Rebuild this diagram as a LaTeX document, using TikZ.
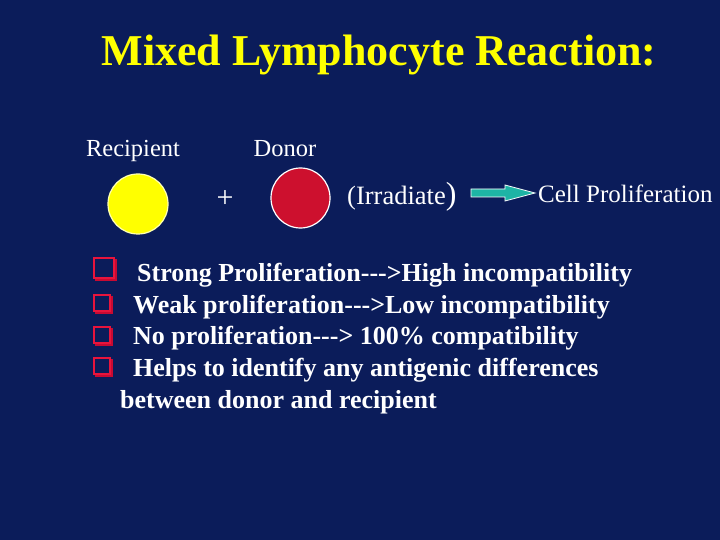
\documentclass[tikz,border=0pt]{standalone}
\usepackage{fontspec}
\setmainfont{Liberation Serif}
\usetikzlibrary{shapes.geometric,calc}
\definecolor{bg}{RGB}{11,28,90}
\definecolor{ttl}{RGB}{255,255,0}
\definecolor{cellred}{RGB}{205,16,46}
\definecolor{teal}{RGB}{30,180,165}
\definecolor{bred}{RGB}{232,20,60}
\definecolor{bshadow}{RGB}{200,10,50}
\begin{document}
\begin{tikzpicture}[x=1pt,y=-1pt,
  lbl/.style={inner sep=0pt,text=white,font=\fontsize{24}{28}\selectfont},
  bul/.style={inner sep=0pt,anchor=base west,text=white,font=\bfseries\fontsize{26}{30}\selectfont},
  cell/.style={ellipse,minimum width=60pt,minimum height=60pt,line width=1.2pt,inner sep=0pt},
  bbox/.style={draw=bred,line width=2.2pt,fill=bg,minimum size=#1,inner sep=0pt},
  bshad/.style={fill=bshadow}]
\fill[bg] (0,0) rectangle (720,540);
\useasboundingbox (0,0) rectangle (720,540);
\node[anchor=base,inner sep=0pt,text=ttl,font=\bfseries\fontsize{44}{50}\selectfont] (title) at (379,66) {Mixed Lymphocyte Reaction:};
\node[lbl,anchor=base,font=\fontsize{24.5}{28}\selectfont] (rec) at (133,157) {Recipient};
\node[lbl,anchor=base,font=\fontsize{24.5}{28}\selectfont] (don) at (285,157) {Donor};
\node[cell,fill=ttl,draw=white!70!ttl] (ycell) at (138,204) {};
\node[cell,fill=cellred,draw=white,minimum width=59pt] (rcell) at (300.5,198) {};
\node[inner sep=0pt,text=white,font=\fontsize{30}{34}\selectfont] (plus) at (225,199) {+};
\node[lbl,anchor=base west,font=\fontsize{26.5}{30}\selectfont] (irr) at (347,205) {(Irradiate{\fontsize{32}{36}\selectfont)}};
\node[lbl,anchor=base west,font=\fontsize{25}{29}\selectfont] (prolif) at (538,203) {Cell Proliferation};
\coordinate (arrS) at (471,193);
\coordinate (arrT) at (535,193);
\draw[fill=teal,draw=white,line width=0.8pt,line join=miter]
  ($(arrS)+(0,-4)$) -- ($(arrS)+(34,-4)$) -- ($(arrS)+(34,-8)$) -- (arrT)
  -- ($(arrS)+(34,8)$) -- ($(arrS)+(34,4)$) -- ($(arrS)+(0,4)$) -- cycle;
\foreach \n/\x/\y/\s in {b1/104/268/20, b2/102/303/16, b3/102/335/16, b4/102/366/16}{
  \fill[bshad] (\x+1-\s/2,\y+1-\s/2) rectangle (\x+2.6+\s/2,\y+2.6+\s/2);
  \node[bbox=\s pt] (\n) at (\x,\y) {};
}
\node[bul] (t1) at (137,281) {Strong Proliferation-{}-{}->High incompatibility};
\node[bul] (t2) at (133,313) {Weak proliferation-{}-{}->Low incompatibility};
\node[bul] (t3) at (133,344) {No proliferation-{}-{}-> 100\% compatibility};
\node[bul] (t4) at (133,376) {Helps to identify any antigenic differences};
\node[bul] (t5) at (120,408) {between donor and recipient};
\end{tikzpicture}
\end{document}
